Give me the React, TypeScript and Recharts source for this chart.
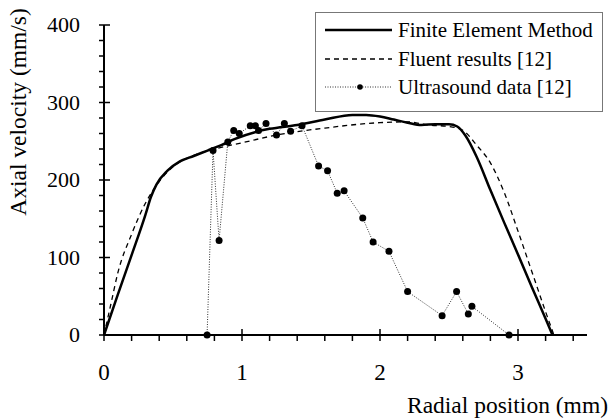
import React from "react";
import {
  LineChart,
  Line,
  XAxis,
  YAxis,
} from "recharts";

// radial position (mm) / axial velocity (mm/s)
const femPositions = [0, 0.1, 0.2, 0.3, 0.34, 0.38, 0.46, 0.55, 0.65, 0.75, 0.85, 0.95, 1.1, 1.2, 1.4, 1.6, 1.8, 1.9, 2.0, 2.1, 2.2, 2.3, 2.4, 2.5, 2.56, 2.62, 2.7, 2.8, 2.9, 3.0, 3.1, 3.2, 3.25];
const femVelocity = [0, 52, 103, 155, 178, 194, 212, 224, 231, 238, 245, 253, 262, 266, 271, 278, 284, 284, 282, 278, 274, 271, 272, 272, 269, 257, 230, 187, 145, 104, 62, 21, 0];

const fluentPositions = [0, 0.05, 0.1, 0.2, 0.3, 0.4, 0.5, 0.6, 0.7, 0.8, 1.0, 1.25, 1.6, 2.0, 2.2, 2.35, 2.5, 2.6, 2.7, 2.8, 2.9, 3.0, 3.1, 3.2, 3.26];
const fluentVelocity = [0, 40, 80, 130, 170, 198, 217, 228, 235, 240, 248, 258, 267, 274, 275, 271, 269, 264, 245, 222, 184, 134, 82, 30, 0];

const ultrasoundPositions = [0.747, 0.79, 0.834, 0.897, 0.94, 0.98, 1.06, 1.097, 1.12, 1.174, 1.25, 1.307, 1.352, 1.435, 1.555, 1.62, 1.69, 1.74, 1.875, 1.95, 2.065, 2.2, 2.45, 2.555, 2.64, 2.666, 2.935];
const ultrasoundVelocity = [0, 238, 122, 249, 264, 260, 270, 270, 264, 273, 258, 273, 263, 270, 218, 212, 183, 186, 151, 120, 108, 56, 25, 56, 27, 37, 0];

const xTicks = [0, 0.2, 0.4, 0.6, 0.8, 1, 1.2, 1.4, 1.6, 1.8, 2, 2.2, 2.4, 2.6, 2.8, 3, 3.2, 3.4];
const yTicks = [0, 20, 40, 60, 80, 100, 120, 140, 160, 180, 200, 220, 240, 260, 280, 300, 320, 340, 360, 380, 400];

const seriesNames = ["Finite Element Method", "Fluent results [12]", "Ultrasound data [12]"];

const toPoints = (xs: number[], ys: number[]) => xs.map((x, i) => ({ x, y: ys[i] }));

const femData = toPoints(femPositions, femVelocity);
const fluentData = toPoints(fluentPositions, fluentVelocity);
const ultrasoundData = toPoints(ultrasoundPositions, ultrasoundVelocity);

const FONT = '"Liberation Serif", "DejaVu Serif", "Noto Serif", Tinos, serif';

const isMajor = (v: number, step: number) => Math.abs(v / step - Math.round(v / step)) < 1e-6;

function XTick({ x, y, payload }: any) {
  const v = payload.value;
  const major = isMajor(v, 1);
  return (
    <g>
      <line x1={x} x2={x} y1={major ? y - 6 : y} y2={y + 6} stroke="#000" strokeWidth={1.5} />
      {major && (
        <text x={x} y={y + 45} textAnchor="middle" fontSize={23} fontFamily={FONT} fill="#000">
          {v}
        </text>
      )}
    </g>
  );
}

function YTick({ x, y, payload }: any) {
  const v = payload.value;
  const major = isMajor(v, 100);
  return (
    <g>
      <line x1={x - 5} x2={major ? x + 6 : x} y1={y} y2={y} stroke="#000" strokeWidth={1.5} />
      {major && (
        <text x={x - 24} y={y + 7} textAnchor="end" fontSize={22} fontFamily={FONT} fill="#000">
          {v}
        </text>
      )}
    </g>
  );
}

const legendRowY = [17, 46, 74];

function LegendBox() {
  return (
    <div
      style={{
        position: "absolute",
        left: 315,
        top: 12,
        width: 288,
        height: 100,
        border: "1px solid #777",
        boxSizing: "border-box",
        background: "#fff",
      }}
    >
      <svg width={286} height={98} style={{ display: "block" }}>
        {seriesNames.map((name, i) => {
          const cy = legendRowY[i];
          return (
            <g key={name}>
              {i === 0 && <line x1={9} x2={76} y1={cy} y2={cy} stroke="#000" strokeWidth={2.5} />}
              {i === 1 && (
                <line x1={9} x2={76} y1={cy} y2={cy} stroke="#000" strokeWidth={1.3} strokeDasharray="5 4" />
              )}
              {i === 2 && (
                <g>
                  <line x1={9} x2={76} y1={cy} y2={cy} stroke="#333" strokeWidth={1} strokeDasharray="1 1.5" />
                  <circle cx={44} cy={cy} r={2.8} fill="#000" />
                </g>
              )}
              <text x={82} y={cy + 7} fontSize={21} fontFamily={FONT} fill="#000">
                {name}
              </text>
            </g>
          );
        })}
      </svg>
    </div>
  );
}

export default function App() {
  return (
    <div style={{ position: "absolute", left: 0, top: 0, width: 610, height: 419, background: "#fff" }}>
      <LineChart width={610} height={419} margin={{ top: 25, right: 23, left: 0, bottom: 0 }}>
        <XAxis
          dataKey="x"
          type="number"
          domain={[0, 3.5]}
          ticks={xTicks}
          interval={0}
          height={84}
          tickSize={0}
          tickMargin={0}
          tickLine={false}
          tick={<XTick />}
          axisLine={{ stroke: "#000", strokeWidth: 2 }}
          allowDuplicatedCategory={false}
          label={{
            content: () => (
              <text x={608} y={413} textAnchor="end" fontSize={23.5} fontFamily={FONT} fill="#000">
                Radial position (mm)
              </text>
            ),
          }}
        />
        <YAxis
          dataKey="y"
          type="number"
          domain={[0, 400]}
          ticks={yTicks}
          interval={0}
          width={104}
          tickSize={0}
          tickMargin={0}
          tickLine={false}
          tick={<YTick />}
          axisLine={{ stroke: "#000", strokeWidth: 2 }}
          label={{
            content: () => (
              <text
                x={26}
                y={112}
                transform="rotate(-90 26 112)"
                textAnchor="middle"
                fontSize={23.5}
                fontFamily={FONT}
                fill="#000"
              >
                Axial velocity (mm/s)
              </text>
            ),
          }}
        />
        <Line
          data={femData}
          dataKey="y"
          name={seriesNames[0]}
          type="monotone"
          stroke="#000"
          strokeWidth={2.5}
          dot={false}
          activeDot={false}
          isAnimationActive={false}
        />
        <Line
          data={fluentData}
          dataKey="y"
          name={seriesNames[1]}
          type="monotone"
          stroke="#000"
          strokeWidth={1.3}
          strokeDasharray="5 4"
          dot={false}
          activeDot={false}
          isAnimationActive={false}
        />
        <Line
          data={ultrasoundData}
          dataKey="y"
          name={seriesNames[2]}
          type="linear"
          stroke="#333"
          strokeWidth={1}
          strokeDasharray="1 1.5"
          dot={{ r: 3.5, fill: "#000", stroke: "none" }}
          activeDot={false}
          isAnimationActive={false}
        />
      </LineChart>
      <LegendBox />
    </div>
  );
}
